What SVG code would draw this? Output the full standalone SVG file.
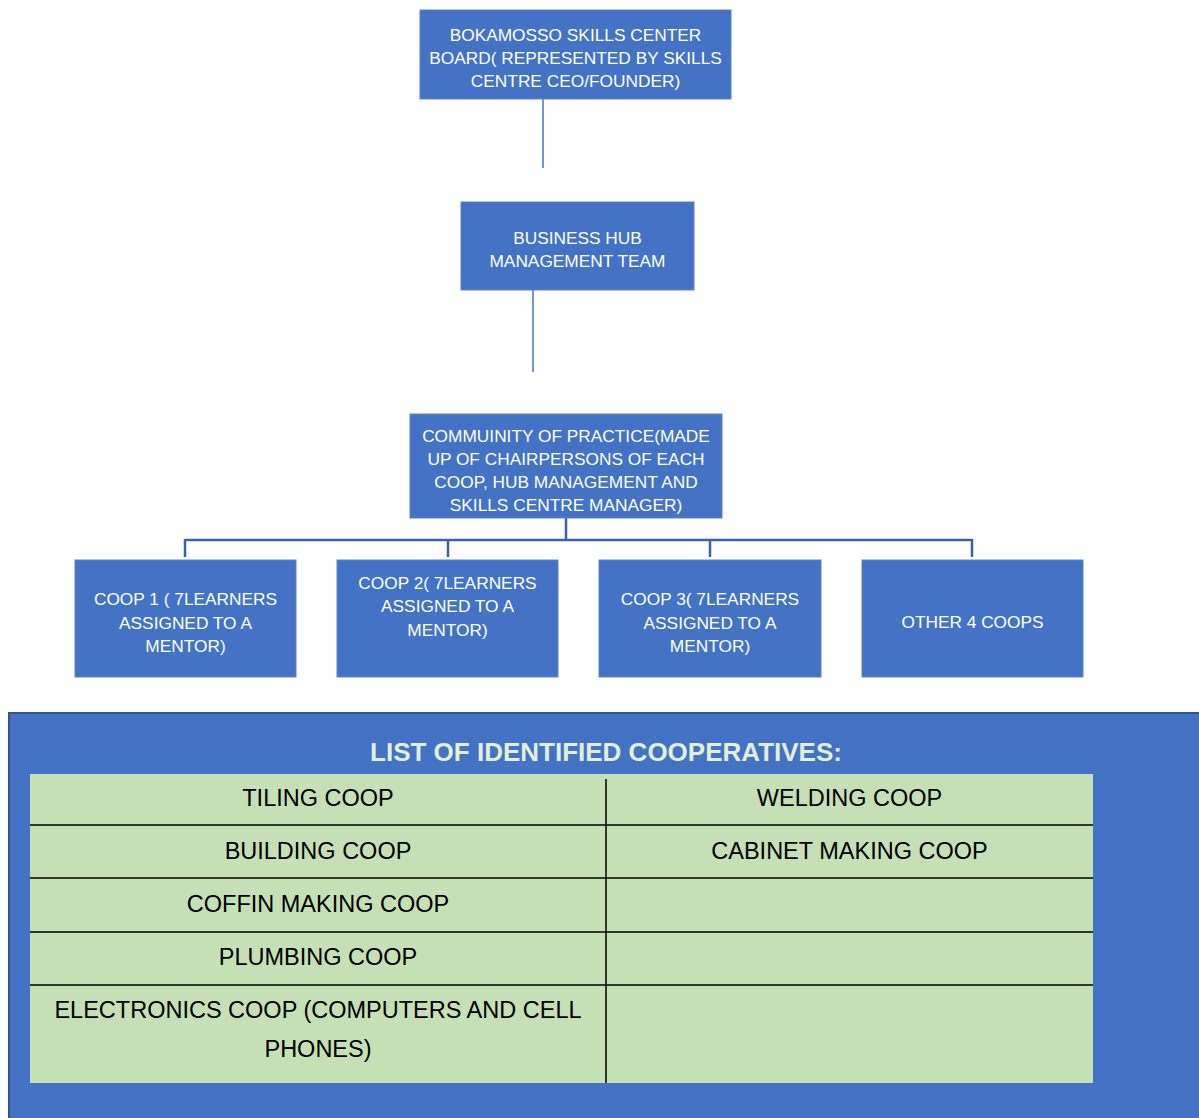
<svg xmlns="http://www.w3.org/2000/svg" width="1199" height="1118" viewBox="0 0 1199 1118">
<style>
.box{fill:#4472C4;stroke:#5B86D0;stroke-width:1}
.bt{font-family:"Liberation Sans",Arial,sans-serif;font-size:17.3px;fill:#FFFFFF;text-anchor:middle}
.thin{stroke:#4472C4;stroke-width:1.5;fill:none}
.tree{stroke:#3A62AA;stroke-width:2.5;fill:none}
.tt{font-family:"Liberation Sans",Arial,sans-serif;font-size:23.5px;fill:#000000;text-anchor:middle}
.grid{stroke:#000000;stroke-width:1.5}
</style>
<rect width="1199" height="1118" fill="#FFFFFF"/>
<g id="connectors">
<line class="thin" x1="543" y1="99" x2="543" y2="168"/>
<line class="thin" x1="533" y1="290" x2="533" y2="372"/>
<path class="tree" d="M566 518 V540 M185 540 H972 M185 539 V557 M448 539 V557 M710 539 V557 M972 539 V557"/>
</g>
<g id="board">
<rect class="box" x="420" y="10" width="311" height="89"/>
<text class="bt" x="575.5" y="41">BOKAMOSSO SKILLS CENTER</text>
<text class="bt" x="575.5" y="64">BOARD( REPRESENTED BY SKILLS</text>
<text class="bt" x="575.5" y="87">CENTRE CEO/FOUNDER)</text>
</g>
<g id="hub">
<rect class="box" x="461" y="202" width="233" height="88"/>
<text class="bt" x="577.5" y="244">BUSINESS HUB</text>
<text class="bt" x="577.5" y="267">MANAGEMENT TEAM</text>
</g>
<g id="community">
<rect class="box" x="410" y="414" width="312" height="104"/>
<text class="bt" x="566" y="442">COMMUINITY OF PRACTICE(MADE</text>
<text class="bt" x="566" y="465">UP OF CHAIRPERSONS OF EACH</text>
<text class="bt" x="566" y="488">COOP, HUB MANAGEMENT AND</text>
<text class="bt" x="566" y="511">SKILLS CENTRE MANAGER)</text>
</g>
<g id="coop1">
<rect class="box" x="75" y="560" width="221" height="117"/>
<text class="bt" x="185.5" y="605">COOP 1 ( 7LEARNERS</text>
<text class="bt" x="185.5" y="629">ASSIGNED TO A</text>
<text class="bt" x="185.5" y="652">MENTOR)</text>
</g>
<g id="coop2">
<rect class="box" x="337" y="560" width="221" height="117"/>
<text class="bt" x="447.5" y="589">COOP 2( 7LEARNERS</text>
<text class="bt" x="447.5" y="612">ASSIGNED TO A</text>
<text class="bt" x="447.5" y="636">MENTOR)</text>
</g>
<g id="coop3">
<rect class="box" x="599" y="560" width="222" height="117"/>
<text class="bt" x="710" y="605">COOP 3( 7LEARNERS</text>
<text class="bt" x="710" y="629">ASSIGNED TO A</text>
<text class="bt" x="710" y="652">MENTOR)</text>
</g>
<g id="other">
<rect class="box" x="862" y="560" width="221" height="117"/>
<text class="bt" x="972.5" y="628">OTHER 4 COOPS</text>
</g>
<g id="cooperatives-list">
<rect x="8" y="712" width="1191" height="406" fill="#4472C4"/>
<path d="M9 1118 V713 H1199" fill="none" stroke="#2F5597" stroke-width="2"/>
<text x="606" y="761" font-family="'Liberation Sans',Arial,sans-serif" font-size="26" font-weight="bold" fill="#E2EFD9" text-anchor="middle">LIST OF IDENTIFIED COOPERATIVES:</text>
<rect x="30" y="774" width="1063" height="309" fill="#C5E0B4"/>
<g class="grid">
<line x1="30" y1="825" x2="1093" y2="825"/>
<line x1="30" y1="878" x2="1093" y2="878"/>
<line x1="30" y1="932" x2="1093" y2="932"/>
<line x1="30" y1="985" x2="1093" y2="985"/>
<line x1="606" y1="779" x2="606" y2="1083"/>
</g>
<text class="tt" x="318" y="806">TILING COOP</text>
<text class="tt" x="849.5" y="806">WELDING COOP</text>
<text class="tt" x="318" y="859">BUILDING COOP</text>
<text class="tt" x="849.5" y="859">CABINET MAKING COOP</text>
<text class="tt" x="318" y="912">COFFIN MAKING COOP</text>
<text class="tt" x="318" y="965">PLUMBING COOP</text>
<text class="tt" x="318" y="1018">ELECTRONICS COOP (COMPUTERS AND CELL</text>
<text class="tt" x="318" y="1057">PHONES)</text>
</g>
</svg>
